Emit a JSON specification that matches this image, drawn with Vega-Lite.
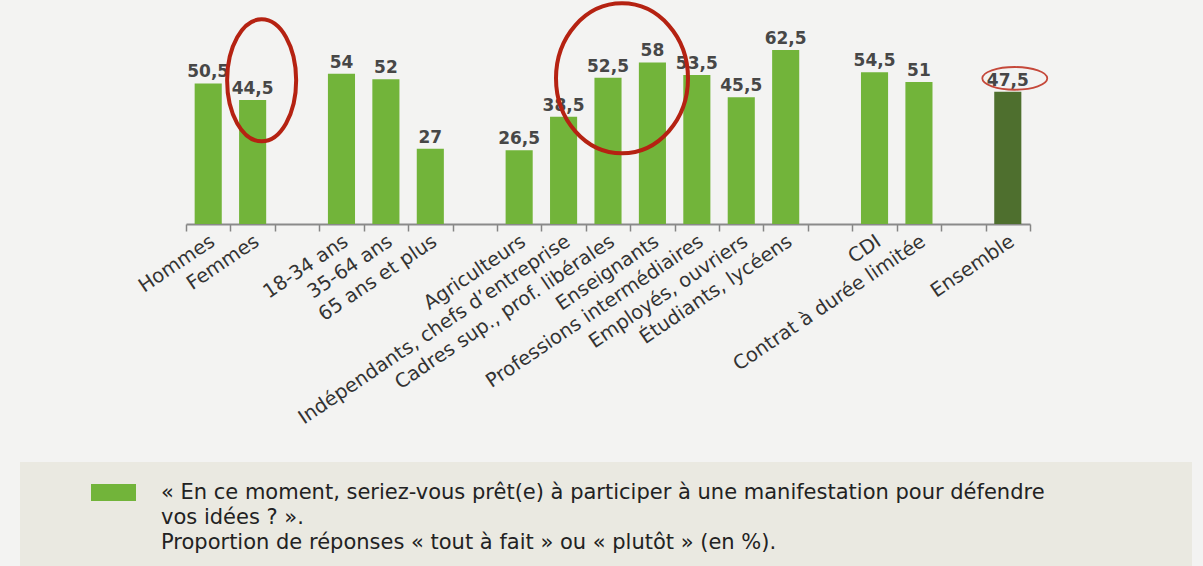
{
  "$schema": "https://vega.github.io/schema/vega-lite/v6.json",
  "autosize": "none",
  "width": 844,
  "height": 181,
  "padding": {"left": 186, "top": 43, "right": 173, "bottom": 342},
  "background": "#f3f3f2",
  "config": {
    "view": {"stroke": null},
    "locale": {"number": {"decimal": ",", "thousands": " ", "grouping": [3], "currency": ["", " €"]}},
    "style": {"guide-label": {"lineHeight": 25}}
  },
  "data": {
    "values": [
      {"cat": "Hommes", "v": 50.5, "serie": "manif"},
      {"cat": "Femmes", "v": 44.5, "serie": "manif"},
      {"cat": "18-34 ans", "v": 54, "serie": "manif"},
      {"cat": "35-64 ans", "v": 52, "serie": "manif"},
      {"cat": "65 ans et plus", "v": 27, "serie": "manif"},
      {"cat": "Agriculteurs", "v": 26.5, "serie": "manif"},
      {"cat": "Indépendants, chefs d’entreprise", "v": 38.5, "serie": "manif"},
      {"cat": "Cadres sup., prof. libérales", "v": 52.5, "serie": "manif"},
      {"cat": "Enseignants", "v": 58, "serie": "manif"},
      {"cat": "Professions intermédiaires", "v": 53.5, "serie": "manif"},
      {"cat": "Employés, ouvriers", "v": 45.5, "serie": "manif"},
      {"cat": "Étudiants, lycéens", "v": 62.5, "serie": "manif"},
      {"cat": "CDI", "v": 54.5, "serie": "manif"},
      {"cat": "Contrat à durée limitée", "v": 51, "serie": "manif"},
      {"cat": "Ensemble", "v": 47.5, "serie": "manif"}
    ]
  },
  "encoding": {
    "x": {
      "field": "cat",
      "type": "nominal",
      "sort": null,
      "scale": {
        "domain": ["Hommes", "Femmes", "g1", "18-34 ans", "35-64 ans", "65 ans et plus", "g2", "Agriculteurs", "Indépendants, chefs d’entreprise", "Cadres sup., prof. libérales", "Enseignants", "Professions intermédiaires", "Employés, ouvriers", "Étudiants, lycéens", "g3", "CDI", "Contrat à durée limitée", "g4", "Ensemble"],
        "paddingInner": 0,
        "paddingOuter": 0
      },
      "axis": {
        "title": null,
        "labelExpr": "indexof(['g1','g2','g3','g4'], datum.value) >= 0 ? '' : datum.label",
        "labelAngle": -34,
        "labelAlign": "right",
        "labelBaseline": "middle",
        "labelFont": "DejaVu Sans",
        "labelFontSize": 19.5,
        "labelColor": "#333333",
        "labelPadding": 8,
        "labelOffset": 4,
        "labelLimit": 500,
        "tickBand": "extent",
        "tickSize": 7,
        "tickColor": "#858585",
        "tickWidth": 1.5,
        "domainColor": "#8a8a8a",
        "domainWidth": 2,
        "grid": false
      }
    },
    "y": {
      "field": "v",
      "type": "quantitative",
      "scale": {"domain": [0, 65], "nice": false},
      "axis": null
    }
  },
  "layer": [
    {
      "mark": {"type": "bar", "width": {"band": 0.61}},
      "encoding": {
        "color": {
          "condition": {"test": "datum.cat === 'Ensemble'", "value": "#4e6f2e"},
          "field": "serie",
          "type": "nominal",
          "scale": {"domain": ["manif"], "range": ["#72b43a"]},
          "legend": {
            "orient": "none",
            "legendX": -166,
            "legendY": 419,
            "title": " ",
            "titleOrient": "right",
            "titlePadding": 127,
            "titleFontSize": 12,
            "fillColor": "#eae9e1",
            "padding": 20,
            "cornerRadius": 0,
            "strokeColor": null,
            "symbolType": "M-2.647,-1H2.647V1H-2.647Z",
            "symbolSize": 289,
            "symbolOffset": 63,
            "symbolStrokeWidth": 0,
            "symbolOpacity": 1,
            "labelExpr": "['« En ce moment, seriez-vous prêt(e) à participer à une manifestation pour défendre', 'vos idées ? ».', 'Proportion de réponses « tout à fait » ou « plutôt » (en %).']",
            "labelFont": "DejaVu Sans",
            "labelFontSize": 21,
            "labelColor": "#222222",
            "labelLimit": 1200,
            "labelOffset": 37,
            "labelBaseline": "middle"
          }
        }
      }
    },
    {
      "mark": {"type": "text", "baseline": "bottom", "dy": -2, "font": "DejaVu Sans", "fontSize": 17, "fontWeight": "bold", "color": "#474747"},
      "encoding": {
        "text": {"field": "v", "type": "quantitative", "format": ".1~f"}
      }
    },
    {
      "data": {"values": [{"cat": "Femmes", "v": 51.6}]},
      "mark": {"type": "point", "filled": false, "stroke": "#b52212", "strokeWidth": 4, "opacity": 1, "size": 14884, "xOffset": 9, "shape": "M0,-1A0.566,1,0,1,1,0,1A0.566,1,0,1,1,0,-1Z"},
      "encoding": {}
    },
    {
      "data": {"values": [{"cat": "Cadres sup., prof. libérales", "v": 52.3}]},
      "mark": {"type": "point", "filled": false, "stroke": "#b52212", "strokeWidth": 4, "opacity": 1, "size": 22500, "xOffset": 14, "shape": "M0,-1A0.88,1,0,1,1,0,1A0.88,1,0,1,1,0,-1Z"},
      "encoding": {}
    },
    {
      "data": {"values": [{"cat": "Ensemble", "v": 52.3}]},
      "mark": {"type": "point", "filled": false, "stroke": "#c5483a", "strokeWidth": 1.8, "opacity": 1, "size": 4225, "xOffset": 7, "shape": "M-1,0A1,0.35,0,1,1,1,0A1,0.35,0,1,1,-1,0Z"},
      "encoding": {}
    }
  ]
}
